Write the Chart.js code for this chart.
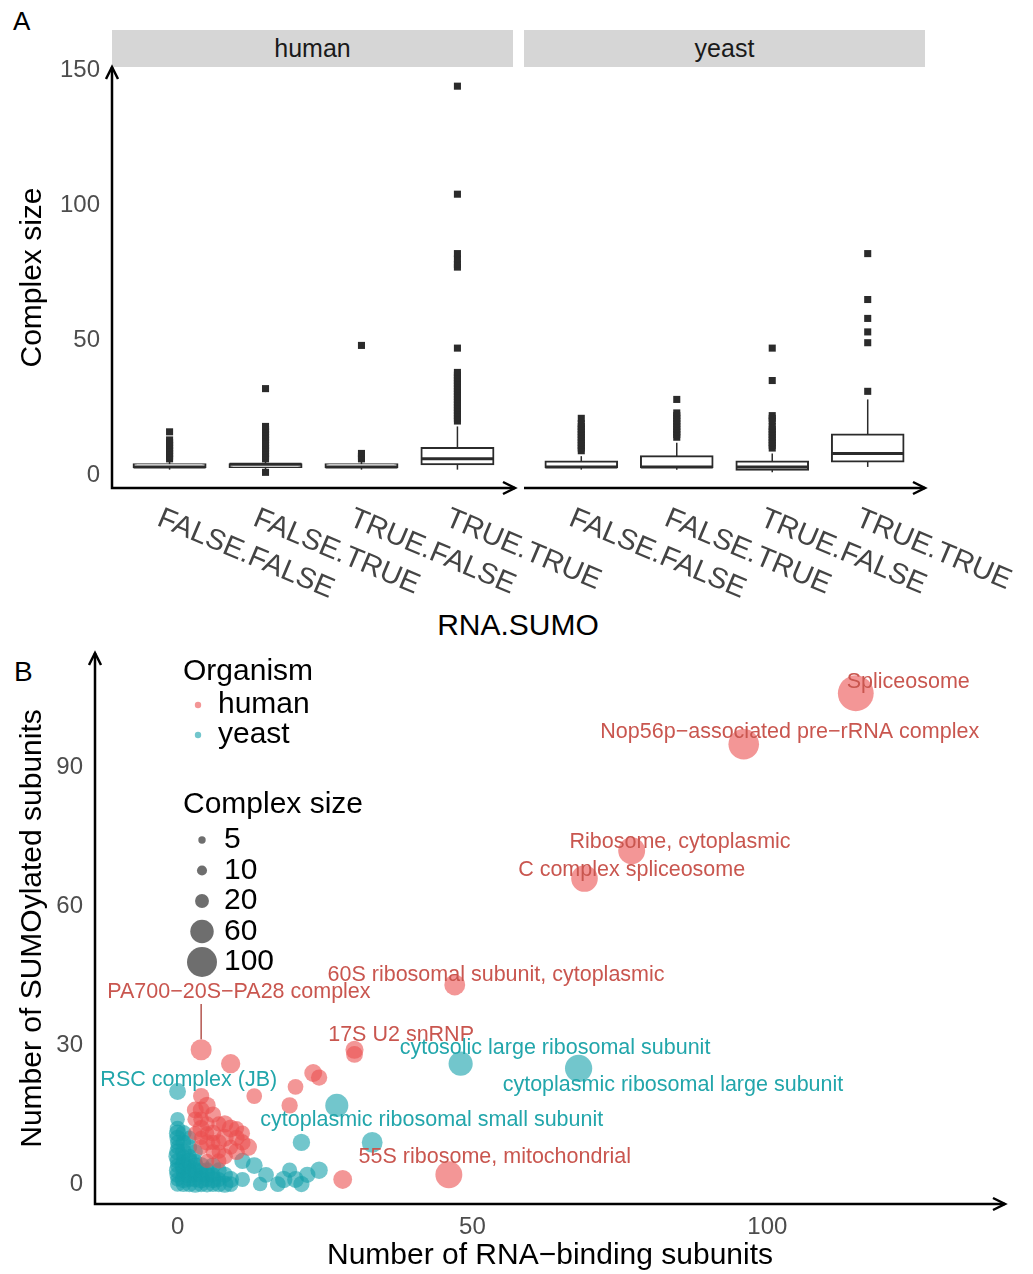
<!DOCTYPE html>
<html>
<head>
<meta charset="utf-8">
<title>Complex size, RNA binding and SUMOylation</title>
<script src="https://cdn.jsdelivr.net/npm/chart.js@4.4.1/dist/chart.umd.min.js"></script>
<style>
  body {
    margin: 0;
    width: 1033px;
    height: 1274px;
    position: relative;
    overflow: hidden;
    background: #fff;
    font-family: "Liberation Sans", Arial, sans-serif;
  }
  .strip {
    position: absolute;
    top: 30px;
    width: 401px;
    height: 37px;
    background: #d6d6d6;
    color: #1a1a1a;
    font-size: 25px;
    line-height: 37px;
    text-align: center;
  }
  .tag { position: absolute; color: #000; white-space: nowrap; }
  canvas { position: absolute; }
</style>
</head>
<body>
<div class="tag" style="left:13px; top:8px; font-size:26px; line-height:26px;">A</div>
<div class="strip" style="left:112px;">human</div>
<div class="strip" style="left:524px;">yeast</div>
<div class="tag" style="left:0; width:1036px; text-align:center; top:610px; font-size:30px; line-height:30px;">RNA.SUMO</div>
<div class="tag" style="left:14px; top:658px; font-size:28px; line-height:28px;">B</div>
<canvas id="yeastBox" width="513" height="600" style="left:520px; top:40px;"></canvas>
<canvas id="humanBox" width="640" height="600" style="left:0; top:40px;"></canvas>
<canvas id="bubbleChart" width="1033" height="634" style="left:0; top:640px;"></canvas>
<script>
Chart.defaults.font.family = '"Liberation Sans", Arial, sans-serif';
Chart.defaults.color = '#4d4d4d';

// ---- panel A: complex size by RNA.SUMO class ----
const categories = ['FALSE.FALSE', 'FALSE.TRUE', 'TRUE.FALSE', 'TRUE.TRUE'];
const sizeTicks = [0, 50, 100, 150];

const humanLow = [2, 2, 2, 2];
const humanQ1 = [3, 3, 3, 4];
const humanMedian = [3, 4, 3, 6];
const humanQ3 = [4, 4, 4, 10];
const humanHigh = [5, 5, 5, 18];
const humanOutliers = [
  [6, 7, 8, 9, 10, 11, 12, 13, 16],
  [1, 6, 7, 8, 9, 10, 11, 12, 13, 14, 15, 16, 17, 18, 32],
  [6, 7, 8, 48],
  [20, 21, 22, 23, 24, 25, 26, 27, 28, 29, 30, 31, 32, 33, 34, 35, 36, 37, 38, 47, 77, 78, 80, 82, 104, 144]
];

const yeastLow = [2, 2, 1, 3];
const yeastQ1 = [3, 3, 2, 5];
const yeastMedian = [3, 3, 3, 8];
const yeastQ3 = [5, 7, 5, 15];
const yeastHigh = [7, 12, 8, 28];
const yeastOutliers = [
  [9, 10, 11, 12, 13, 14, 15, 16, 17, 18, 19, 21],
  [14, 15, 16, 17, 18, 19, 20, 21, 22, 23, 28],
  [10, 11, 12, 13, 14, 15, 16, 17, 18, 20, 21, 22, 35, 47],
  [31, 49, 53, 58, 65, 82]
];

// ---- panel B: RNA-binding vs SUMOylated subunits ----
const rnaTicks = [0, 50, 100];
const sumoTicks = [0, 30, 60, 90];
const organisms = ['human', 'yeast'];
const legendSizes = [5, 10, 20, 60, 100];

const humanRna = [115, 96, 77, 69, 47, 4, 30, 46, 28, 30, 9, 23, 24, 20, 19, 13, 4, 4, 10, 11,
  3, 4, 5, 6, 7, 8, 9, 10, 11, 6, 5, 4, 5, 7, 8, 6, 7, 8, 4, 5, 6, 10, 12, 9, 3, 5, 7, 3, 4];
const humanSumo = [106, 95, 72, 66, 43, 29, 29, 2, 1, 28, 26, 24, 23, 21, 17, 19, 19, 16, 12, 11,
  14, 12, 13, 11, 9, 10, 8, 7, 9, 7, 9, 8, 5, 5, 6, 15, 13, 13, 10, 11, 9, 10, 8, 12, 16, 17, 7, 11, 14];
const humanSize = [144, 104, 80, 78, 47, 48, 35, 80, 38, 30, 40, 34, 28, 26, 28, 26, 28, 30, 24, 24,
  26, 32, 24, 30, 28, 34, 24, 30, 28, 24, 28, 26, 22, 24, 28, 28, 24, 32, 22, 22, 24, 28, 32, 34, 30, 32, 22, 22, 26];

const yeastRna = [68, 48, 27, 0, 33, 21, 11, 13, 15, 18, 20, 22, 24, 11, 14, 17, 21, 19, 0,
  0, 0, 0, 0, 0, 0, 0, 0, 0, 0, 0, 0, 0,
  1, 1, 1, 1, 1, 1, 1, 1, 1, 1,
  2, 2, 2, 2, 2, 2, 2, 2, 2,
  3, 3, 3, 3, 3, 3, 3,
  4, 4, 4, 4, 4,
  5, 5, 5, 5,
  6, 6, 6, 6,
  7, 7, 7,
  8, 8,
  9, 9];
const yeastSumo = [25, 26, 17, 20, 9, 9, 5, 4, 2, 1, 1, 2, 3, 1, 0, 0, 0, 3, 14,
  0, 1, 2, 3, 4, 5, 6, 7, 8, 9, 10, 11, 12,
  0, 1, 2, 3, 4, 5, 6, 7, 9, 11,
  0, 1, 2, 3, 4, 5, 6, 8, 10,
  0, 1, 2, 3, 4, 5, 7,
  0, 1, 2, 3, 4,
  0, 1, 2, 3,
  0, 1, 2, 4,
  0, 1, 3,
  0, 2,
  0, 1];
const yeastSize = [82, 64, 58, 30, 47, 32, 28, 30, 26, 32, 30, 28, 32, 24, 22, 26, 28, 24, 22,
  24, 22, 28, 32, 24, 26, 36, 30, 22, 24, 28, 32, 26,
  26, 32, 22, 28, 34, 24, 22, 30, 26, 28,
  28, 24, 32, 26, 22, 30, 24, 26, 22,
  32, 26, 24, 28, 30, 22, 24,
  28, 34, 26, 24, 32,
  30, 24, 28, 26,
  26, 32, 24, 28,
  28, 24, 26,
  32, 28,
  26, 30];

// repelled label positions, in data units
const labelNames = ['Spliceosome', 'Nop56p\u2212associated pre\u2212rRNA complex', 'Ribosome, cytoplasmic',
  'C complex spliceosome', '60S ribosomal subunit, cytoplasmic', 'PA700\u221220S\u2212PA28 complex',
  '17S U2 snRNP', 'cytosolic large ribosomal subunit', 'cytoplasmic ribosomal large subunit',
  'RSC complex (JB)', 'cytoplasmic ribosomal small subunit', '55S ribosome, mitochondrial'];
const labelOrganism = ['human', 'human', 'human', 'human', 'human', 'human', 'human',
  'yeast', 'yeast', 'yeast', 'yeast', 'human'];
const labelRna = [123.9, 103.8, 85.2, 77.0, 54.0, 10.4, 37.9, 64.0, 84.0, 1.9, 43.1, 53.8];
const labelSumo = [108.4, 97.6, 73.9, 67.8, 45.1, 41.5, 32.2, 29.4, 21.4, 22.5, 13.8, 5.8];
const leaderLabel = 5;   // PA700 label gets a segment
const leaderPoint = 5;   // to human point 5

const fill = { human: 'rgba(235, 80, 80, 0.6)', yeast: 'rgba(20, 160, 170, 0.6)' };
const textColor = { human: '#c9564f', yeast: '#22a6ab' };
const ink = '#2b2b2b';

function radiusFor(size) {
  return 0.45 + 1.455 * Math.sqrt(size);
}

// axis lines with open arrow heads, like the ggplot theme
const arrowAxes = {
  id: 'arrowAxes',
  afterDraw(chart, args, opts) {
    const {ctx, chartArea: a} = chart;
    ctx.save();
    ctx.strokeStyle = '#000';
    ctx.lineWidth = 2.5;
    ctx.lineJoin = 'miter';
    ctx.beginPath();
    if (opts.yAxis) {
      ctx.moveTo(a.left, a.top);
      ctx.lineTo(a.left, a.bottom);
    } else {
      ctx.moveTo(a.left, a.bottom);
    }
    ctx.lineTo(a.right, a.bottom);
    ctx.stroke();
    ctx.beginPath();
    ctx.moveTo(a.right - 12, a.bottom - 6);
    ctx.lineTo(a.right, a.bottom);
    ctx.lineTo(a.right - 12, a.bottom + 6);
    if (opts.yAxis) {
      ctx.moveTo(a.left - 6, a.top + 12);
      ctx.lineTo(a.left, a.top);
      ctx.lineTo(a.left + 6, a.top + 12);
    }
    ctx.stroke();
    ctx.restore();
  }
};

// category labels slanted down to the right
const slantLabels = {
  id: 'slantLabels',
  afterDraw(chart) {
    const {ctx, chartArea, scales: {x}} = chart;
    ctx.save();
    ctx.font = '29px "Liberation Sans", Arial, sans-serif';
    ctx.fillStyle = '#444';
    ctx.textAlign = 'left';
    ctx.textBaseline = 'top';
    categories.forEach((c, i) => {
      ctx.save();
      ctx.translate(x.getPixelForValue(i) - 5, chartArea.bottom + 16);
      ctx.rotate(23 * Math.PI / 180);
      ctx.fillText(c, 0, 0);
      ctx.restore();
    });
    ctx.restore();
  }
};

// keep tick labels from pushing the plot area around
function noLabelPadding(s) {
  s.paddingTop = 0;
  s.paddingBottom = 0;
  s.paddingLeft = 0;
  s.paddingRight = 0;
}

function boxDatasets(low, q1, median, q3, high, outliers) {
  const whiskers = [];
  const points = [];
  categories.forEach((c, i) => {
    whiskers.push({x: i, y: [low[i], q1[i]]});
    whiskers.push({x: i, y: [q3[i], high[i]]});
    outliers[i].forEach(v => points.push({x: i, y: v}));
  });
  return [
    {type: 'scatter', data: points, pointStyle: 'rect', pointRadius: 5,
      backgroundColor: ink, borderWidth: 0, order: 0},
    {type: 'scatter', data: categories.map((c, i) => ({x: i, y: median[i]})), pointStyle: 'line',
      pointRadius: 36, borderColor: ink, borderWidth: 3, order: 1},
    {type: 'bar', data: categories.map((c, i) => ({x: i, y: [q1[i], q3[i]]})),
      backgroundColor: '#fff', borderColor: ink, borderWidth: 2, borderSkipped: false,
      inflateAmount: 1, grouped: false, barPercentage: 0.75, categoryPercentage: 1, order: 2},
    {type: 'bar', data: whiskers, backgroundColor: ink, borderWidth: 0,
      grouped: false, maxBarThickness: 1.5, order: 3}
  ];
}

function facetChart(id, sets, showY, padding) {
  return new Chart(document.getElementById(id), {
    type: 'bar',
    data: {datasets: sets},
    options: {
      responsive: false,
      animation: false,
      events: [],
      layout: {padding: padding, autoPadding: false},
      plugins: {legend: {display: false}, tooltip: {enabled: false}, arrowAxes: {yAxis: showY}},
      scales: {
        x: {
          type: 'linear', min: -0.6, max: 3.6, offset: false,
          grid: {display: false, drawTicks: false, offset: false},
          border: {display: false},
          ticks: {display: false},
          afterBuildTicks: s => { s.ticks = categories.map((c, i) => ({value: i})); },
          afterFit: s => { noLabelPadding(s); s.height = 152; }
        },
        y: {
          type: 'linear', min: -4.8, max: 151.1,
          display: showY,
          grid: {display: false, drawTicks: false},
          border: {display: false},
          ticks: {font: {size: 24}, color: '#4d4d4d', padding: 12},
          title: {display: true, text: 'Complex size', color: '#000', font: {size: 30}, padding: {top: 15, bottom: 0}},
          afterBuildTicks: s => { s.ticks = sizeTicks.map(v => ({value: v})); },
          afterFit: s => { noLabelPadding(s); s.width = showY ? 112 : 0; }
        }
      }
    },
    plugins: [arrowAxes, slantLabels]
  });
}

facetChart('humanBox', boxDatasets(humanLow, humanQ1, humanMedian, humanQ3, humanHigh, humanOutliers),
  true, {top: 27, right: 125, left: 0, bottom: 0});
facetChart('yeastBox', boxDatasets(yeastLow, yeastQ1, yeastMedian, yeastQ3, yeastHigh, yeastOutliers),
  false, {top: 27, right: 108, left: 4, bottom: 0});

// ---- panel B ----
function bubbles(rna, sumo, size) {
  return rna.map((x, i) => ({x: x, y: sumo[i], r: radiusFor(size[i])}));
}

const bubbleLabels = {
  id: 'bubbleLabels',
  afterDatasetsDraw(chart) {
    const {ctx, scales: {x, y}} = chart;
    ctx.save();
    // leader segment for the label that was pushed away
    const px = x.getPixelForValue(humanRna[leaderPoint]);
    ctx.strokeStyle = '#b4554f';
    ctx.lineWidth = 1.5;
    ctx.beginPath();
    ctx.moveTo(px, y.getPixelForValue(labelSumo[leaderLabel]) + 12);
    ctx.lineTo(px, y.getPixelForValue(humanSumo[leaderPoint]) - radiusFor(humanSize[leaderPoint]));
    ctx.stroke();
    ctx.font = '21.5px "Liberation Sans", Arial, sans-serif';
    ctx.textAlign = 'center';
    ctx.textBaseline = 'middle';
    labelNames.forEach((name, i) => {
      ctx.fillStyle = textColor[labelOrganism[i]];
      ctx.fillText(name, x.getPixelForValue(labelRna[i]), y.getPixelForValue(labelSumo[i]));
    });
    ctx.restore();
  }
};

const bubbleLegend = {
  id: 'bubbleLegend',
  afterDraw(chart) {
    const ctx = chart.ctx;
    ctx.save();
    ctx.font = '30px "Liberation Sans", Arial, sans-serif';
    ctx.textAlign = 'left';
    ctx.textBaseline = 'middle';
    ctx.fillStyle = '#000';
    ctx.fillText('Organism', 183, 32);
    organisms.forEach((o, i) => {
      const cy = 65 + 30 * i;
      ctx.fillStyle = fill[o];
      ctx.beginPath();
      ctx.arc(198, cy, 3.2, 0, Math.PI * 2);
      ctx.fill();
      ctx.fillStyle = '#000';
      ctx.fillText(o, 218, cy);
    });
    ctx.fillText('Complex size', 183, 165);
    legendSizes.forEach((s, i) => {
      const cy = 200 + 30.5 * i;
      ctx.fillStyle = 'rgba(0, 0, 0, 0.57)';
      ctx.beginPath();
      ctx.arc(202, cy, radiusFor(s), 0, Math.PI * 2);
      ctx.fill();
      ctx.fillStyle = '#000';
      ctx.fillText(String(s), 224, cy);
    });
    ctx.restore();
  }
};

new Chart(document.getElementById('bubbleChart'), {
  type: 'bubble',
  data: {
    datasets: [
      {label: 'human', data: bubbles(humanRna, humanSumo, humanSize),
        backgroundColor: fill.human, borderWidth: 0, order: 0},
      {label: 'yeast', data: bubbles(yeastRna, yeastSumo, yeastSize),
        backgroundColor: fill.yeast, borderWidth: 0, order: 1}
    ]
  },
  options: {
    responsive: false,
    animation: false,
    events: [],
    layout: {padding: {top: 13, right: 28, left: 0, bottom: 0}, autoPadding: false},
    plugins: {legend: {display: false}, tooltip: {enabled: false}, arrowAxes: {yAxis: true}},
    scales: {
      x: {
        type: 'linear', min: -14, max: 140.3,
        grid: {display: false, drawTicks: false},
        border: {display: false},
        ticks: {font: {size: 24}, color: '#4d4d4d', padding: 9, maxRotation: 0},
        title: {display: true, text: 'Number of RNA\u2212binding subunits', color: '#000', font: {size: 30}, padding: {top: 0, bottom: 0}},
        afterBuildTicks: s => { s.ticks = rnaTicks.map(v => ({value: v})); },
        afterFit: s => { noLabelPadding(s); s.height = 70; }
      },
      y: {
        type: 'linear', min: -4.3, max: 114.7,
        grid: {display: false, drawTicks: false},
        border: {display: false},
        ticks: {font: {size: 24}, color: '#4d4d4d', padding: 12},
        title: {display: true, text: 'Number of SUMOylated subunits', color: '#000', font: {size: 30}, padding: {top: 15, bottom: 0}},
        afterBuildTicks: s => { s.ticks = sumoTicks.map(v => ({value: v})); },
        afterFit: s => { noLabelPadding(s); s.width = 95; }
      }
    }
  },
  plugins: [arrowAxes, bubbleLabels, bubbleLegend]
});
</script>
</body>
</html>
